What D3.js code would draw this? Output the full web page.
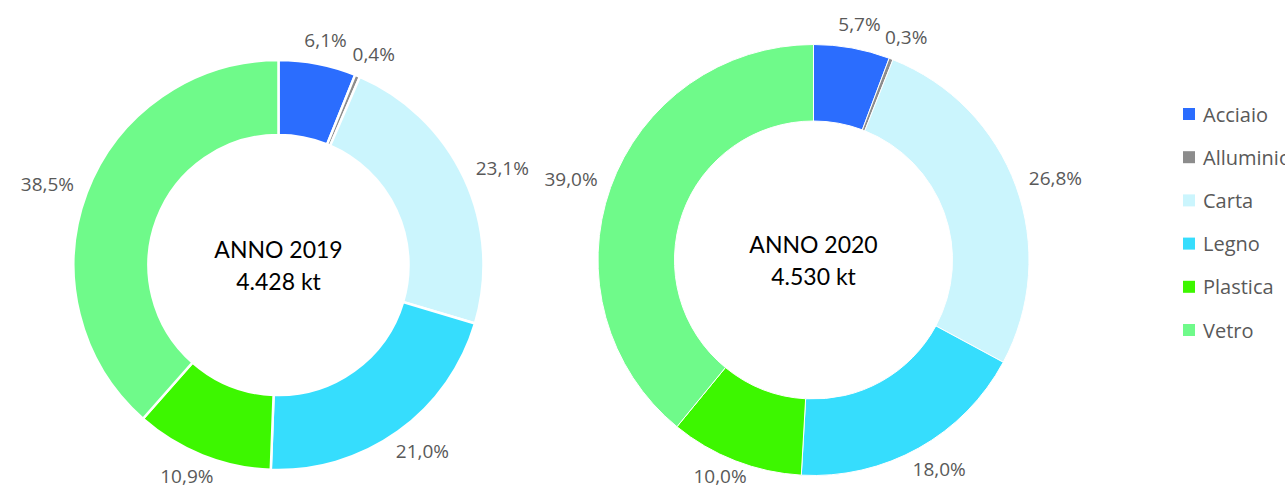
<!DOCTYPE html>
<html><head><meta charset="utf-8">
<script src="https://cdn.jsdelivr.net/npm/d3@7"></script>
<style>html,body{margin:0;padding:0;background:#fff;overflow:hidden}</style>
</head><body>
<svg id="c" width="1285" height="490"></svg>
<script>
const categories = ["Acciaio","Alluminio","Carta","Legno","Plastica","Vetro"];
const values2019 = [6.1,0.4,23.1,21.0,10.9,38.5];
const values2020 = [5.7,0.3,26.8,18.0,10.0,39.0];
const titles = ["ANNO 2019","ANNO 2020"];
const totals = ["4.428 kt","4.530 kt"];
const colors = ["#2B6DFE","#8C8C8C","#CBF5FD","#36DDFD","#3DF700","#6FFA8A"];

const svg = d3.select("#c");
const color = d3.scaleOrdinal().domain(categories).range(colors);
const fmt = v => d3.format(".1f")(v).replace(".", ",") + "%";

const charts = [
  {vals: values2019, cx: 278.5, cy: 265, r: 205, ir: 130, sw: 2.5},
  {vals: values2020, cx: 813.5, cy: 260, r: 215.5, ir: 139, sw: 1}
];
const pie = d3.pie().sort(null).value(d => d.v);

charts.forEach((c, ci) => {
  const data = categories.map((k, i) => ({k, v: c.vals[i]}));
  const arcs = pie(data);
  const arc = d3.arc().innerRadius(c.ir).outerRadius(c.r);
  const g = svg.append("g").attr("transform", `translate(${c.cx},${c.cy})`);
  g.selectAll("path").data(arcs).join("path")
    .attr("d", arc).attr("fill", d => color(d.data.k))
    .attr("stroke", "#fff").attr("stroke-width", c.sw);
  const lr = c.r + 14;
  g.selectAll("text.lab").data(arcs).join("text").attr("class","lab")
    .each(function(d){
      const a = (d.startAngle + d.endAngle)/2;
      const s = Math.sin(a), co = -Math.cos(a);
      let x = lr*s + s*28, y = lr*co + co*10;
      y = Math.min(y, 476 - c.cy);
      d3.select(this).attr("x", x).attr("y", y);
    })
    .attr("text-anchor","middle").attr("dominant-baseline","central")
    .attr("font-family","'Open Sans', sans-serif").attr("font-size",19)
    .attr("fill","#595959").text(d => fmt(d.data.v));
  g.append("text").attr("x",0).attr("y",-16).attr("text-anchor","middle")
    .attr("dominant-baseline","central").attr("font-family","Lato, sans-serif")
    .attr("font-size",23).attr("fill","#000").text(titles[ci]);
  g.append("text").attr("x",0).attr("y",16).attr("text-anchor","middle")
    .attr("dominant-baseline","central").attr("font-family","Lato, sans-serif")
    .attr("font-size",23).attr("fill","#000").text(totals[ci]);
});

const ly = d3.scalePoint().domain(categories).range([114, 330]);
const lg = svg.append("g");
const items = lg.selectAll("g").data(categories).join("g")
  .attr("transform", d => `translate(1183,${ly(d)})`);
items.append("rect").attr("x",0).attr("y",-6).attr("width",12).attr("height",12)
  .attr("fill", d => color(d));
items.append("text").attr("x",20).attr("y",0).attr("dominant-baseline","central")
  .attr("font-family","'Open Sans', sans-serif").attr("font-size",20)
  .attr("fill","#595959").text(d => d);
</script>
</body></html>
